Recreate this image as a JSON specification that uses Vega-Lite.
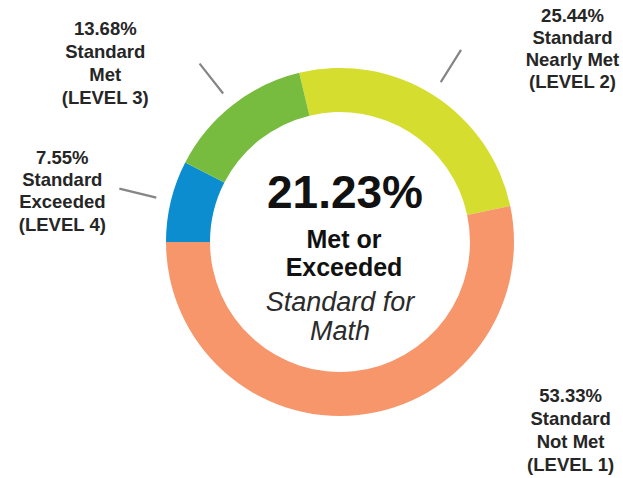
{
  "$schema": "https://vega.github.io/schema/vega-lite/v6.json",
  "autosize": {"type": "none"},
  "width": 566,
  "height": 472,
  "padding": {"left": 57, "top": 6, "right": 0, "bottom": 0},
  "background": "white",
  "config": {"view": {"stroke": null}},
  "datasets": {
    "levels": [
      {"cat": "L2", "value": 25.44, "ord": 1, "label": "25.44%\nStandard\nNearly Met\n(LEVEL 2)"},
      {"cat": "L1", "value": 53.33, "ord": 2, "label": "53.33%\nStandard\nNot Met\n(LEVEL 1)"},
      {"cat": "L4", "value": 7.55, "ord": 3, "label": "7.55%\nStandard\nExceeded\n(LEVEL 4)"},
      {"cat": "L3", "value": 13.68, "ord": 4, "label": "13.68%\nStandard\nMet\n(LEVEL 3)"}
    ]
  },
  "layer": [
    {
      "data": {"name": "levels"},
      "mark": {"type": "arc", "innerRadius": 130, "outerRadius": 174},
      "encoding": {
        "theta": {"field": "value", "type": "quantitative", "stack": true, "scale": {"range": [-0.2369, 6.0463]}},
        "order": {"field": "ord", "type": "quantitative"},
        "color": {
          "field": "cat", "type": "nominal", "legend": null,
          "scale": {"domain": ["L2", "L1", "L4", "L3"], "range": ["#d5de2f", "#f6966a", "#0b8dcf", "#78bc3f"]}
        }
      }
    },
    {
      "data": {"name": "levels"},
      "mark": {"type": "arc", "innerRadius": 189, "outerRadius": 227, "padAngle": 3.1, "fill": "transparent", "stroke": "#858585", "strokeWidth": 2.2},
      "encoding": {
        "theta": {"field": "value", "type": "quantitative", "stack": true},
        "order": {"field": "ord", "type": "quantitative"},
        "strokeOpacity": {"condition": {"test": "datum.cat === 'L1'", "value": 0}, "value": 1}
      }
    },
    {
      "data": {"name": "levels"},
      "mark": {"type": "text", "radius": 226, "dx": 112, "dy": -35, "lineBreak": "\n", "lineHeight": 22, "font": "Liberation Sans", "fontSize": 18.5, "fontWeight": "bold", "fill": "#262626", "align": "center", "baseline": "middle"},
      "encoding": {
        "theta": {"field": "value", "type": "quantitative", "stack": true},
        "order": {"field": "ord", "type": "quantitative"},
        "text": {"condition": {"test": "datum.cat === 'L2'", "field": "label", "type": "nominal"}, "value": ""}
      }
    },
    {
      "data": {"name": "levels"},
      "mark": {"type": "text", "radius": 226, "dx": 207, "dy": -71, "lineBreak": "\n", "lineHeight": 23, "font": "Liberation Sans", "fontSize": 18.5, "fontWeight": "bold", "fill": "#262626", "align": "center", "baseline": "middle"},
      "encoding": {
        "theta": {"field": "value", "type": "quantitative", "stack": true},
        "order": {"field": "ord", "type": "quantitative"},
        "text": {"condition": {"test": "datum.cat === 'L1'", "field": "label", "type": "nominal"}, "value": ""}
      }
    },
    {
      "data": {"name": "levels"},
      "mark": {"type": "text", "radius": 226, "dx": -58, "dy": -31, "lineBreak": "\n", "lineHeight": 22.3, "font": "Liberation Sans", "fontSize": 18.5, "fontWeight": "bold", "fill": "#262626", "align": "center", "baseline": "middle"},
      "encoding": {
        "theta": {"field": "value", "type": "quantitative", "stack": true},
        "order": {"field": "ord", "type": "quantitative"},
        "text": {"condition": {"test": "datum.cat === 'L4'", "field": "label", "type": "nominal"}, "value": ""}
      }
    },
    {
      "data": {"name": "levels"},
      "mark": {"type": "text", "radius": 226, "dx": -95, "dy": -35, "lineBreak": "\n", "lineHeight": 23, "font": "Liberation Sans", "fontSize": 18.5, "fontWeight": "bold", "fill": "#262626", "align": "center", "baseline": "middle"},
      "encoding": {
        "theta": {"field": "value", "type": "quantitative", "stack": true},
        "order": {"field": "ord", "type": "quantitative"},
        "text": {"condition": {"test": "datum.cat === 'L3'", "field": "label", "type": "nominal"}, "value": ""}
      }
    },
    {
      "data": {"values": [{"t": "21.23%"}]},
      "mark": {"type": "text", "dx": 5, "dy": -48, "font": "Liberation Sans", "fontSize": 46, "fontWeight": "bold", "fill": "#111111", "align": "center", "baseline": "middle"},
      "encoding": {"text": {"field": "t", "type": "nominal"}}
    },
    {
      "data": {"values": [{"t": "Met or\nExceeded"}]},
      "mark": {"type": "text", "dx": 4, "dy": -2, "lineBreak": "\n", "lineHeight": 27.5, "font": "Liberation Sans", "fontSize": 25, "fontWeight": "bold", "fill": "#111111", "align": "center", "baseline": "middle"},
      "encoding": {"text": {"field": "t", "type": "nominal"}}
    },
    {
      "data": {"values": [{"t": "Standard for\nMath"}]},
      "mark": {"type": "text", "dx": 0, "dy": 61, "lineBreak": "\n", "lineHeight": 28.5, "font": "Liberation Sans", "fontSize": 27, "fontStyle": "italic", "fill": "#2b2b2b", "align": "center", "baseline": "middle"},
      "encoding": {"text": {"field": "t", "type": "nominal"}}
    }
  ]
}
